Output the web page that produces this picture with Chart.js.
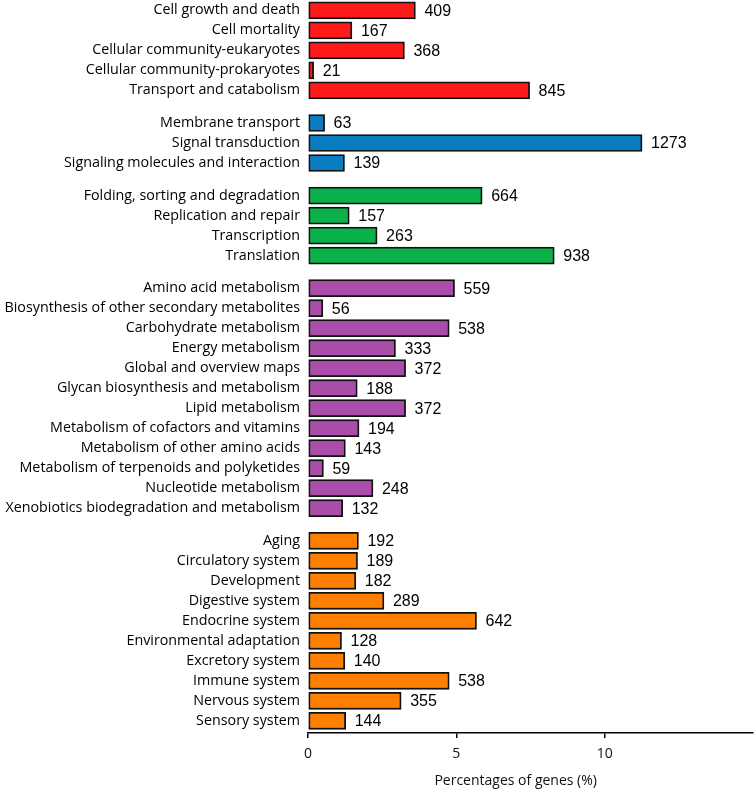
<!DOCTYPE html>
<html>
<head>
<meta charset="utf-8">
<script src="https://cdn.jsdelivr.net/npm/chart.js@4.4.1/dist/chart.umd.min.js"></script>
<style>
  html, body { margin: 0; padding: 0; background: #fff; }
  #wrap { width: 754px; height: 790px; }
</style>
</head>
<body>
<div id="wrap"><canvas id="myChart" width="754" height="790"></canvas></div>
<script>
// KEGG groups: names, gene counts (bar labels) and percentages (bar lengths)
var cellNames = ["Cell growth and death", "Cell mortality", "Cellular community-eukaryotes",
	"Cellular community-prokaryotes", "Transport and catabolism"];
var cellCounts = [409, 167, 368, 21, 845];
var cellPct = [3.62, 1.48, 3.25, 0.19, 7.47];

var envNames = ["Membrane transport", "Signal transduction", "Signaling molecules and interaction"];
var envCounts = [63, 1273, 139];
var envPct = [0.56, 11.26, 1.23];

var genNames = ["Folding, sorting and degradation", "Replication and repair", "Transcription", "Translation"];
var genCounts = [664, 157, 263, 938];
var genPct = [5.87, 1.39, 2.33, 8.30];

var metNames = ["Amino acid metabolism", "Biosynthesis of other secondary metabolites",
	"Carbohydrate metabolism", "Energy metabolism", "Global and overview maps",
	"Glycan biosynthesis and metabolism", "Lipid metabolism", "Metabolism of cofactors and vitamins",
	"Metabolism of other amino acids", "Metabolism of terpenoids and polyketides",
	"Nucleotide metabolism", "Xenobiotics biodegradation and metabolism"];
var metCounts = [559, 56, 538, 333, 372, 188, 372, 194, 143, 59, 248, 132];
var metPct = [4.94, 0.50, 4.76, 2.95, 3.29, 1.66, 3.29, 1.72, 1.26, 0.52, 2.19, 1.17];

var orgNames = ["Aging", "Circulatory system", "Development", "Digestive system", "Endocrine system",
	"Environmental adaptation", "Excretory system", "Immune system", "Nervous system", "Sensory system"];
var orgCounts = [192, 189, 182, 289, 642, 128, 140, 538, 355, 144];
var orgPct = [1.70, 1.67, 1.61, 2.56, 5.68, 1.13, 1.24, 4.76, 3.14, 1.27];

var xTicks = [0, 5, 10];
var xTitle = 'Percentages of genes (%)';

var groups = [
	{ names: cellNames, counts: cellCounts, pct: cellPct, color: '#ff1a1a' },
	{ names: envNames, counts: envCounts, pct: envPct, color: '#0a7dc0' },
	{ names: genNames, counts: genCounts, pct: genPct, color: '#0db14b' },
	{ names: metNames, counts: metCounts, pct: metPct, color: '#aa4daa' },
	{ names: orgNames, counts: orgCounts, pct: orgPct, color: '#ff8000' }
];

// flatten groups; rows are one unit apart, groups separated by an extra gap
var GAP = 0.63;
var labels = [], counts = [], points = [], colors = [], rows = [];
var row = 0;
groups.forEach(function(g, gi) {
	g.names.forEach(function(name, i) {
		var pos = row + gi * GAP;
		labels.push(name);
		counts.push(g.counts[i]);
		points.push({ x: g.pct[i], y: pos });
		colors.push(g.color);
		rows.push(pos);
		row++;
	});
});

var valueLabels = {
	id: 'valueLabels',
	afterDatasetsDraw: function(chart) {
		var ctx = chart.ctx;
		var meta = chart.getDatasetMeta(0);
		ctx.save();
		ctx.fillStyle = '#000';
		ctx.font = '16px "Liberation Sans", Arial, sans-serif';
		ctx.textAlign = 'left';
		ctx.textBaseline = 'middle';
		meta.data.forEach(function(bar, i) {
			ctx.fillText(counts[i], bar.x + 9, bar.y + 1);
		});
		// axis title, centred a bit left of the axis middle like the original
		var x = chart.scales.x;
		ctx.fillStyle = '#111';
		ctx.font = '14px "Open Sans", sans-serif';
		ctx.textAlign = 'center';
		ctx.fillText(xTitle, (x.getPixelForValue(0) + x.getPixelForValue(14)) / 2, x.bottom - 9);
		ctx.restore();
	}
};

var ctx = document.getElementById("myChart");
var myChart = new Chart(ctx, {
	type: 'bar',
	data: {
		datasets: [{
			data: points,
			backgroundColor: colors,
			borderColor: '#111',
			borderWidth: 1.8,
			borderSkipped: false,
			barThickness: 17
		}]
	},
	options: {
		indexAxis: 'y',
		responsive: false,
		animation: false,
		layout: { padding: 0 },
		plugins: {
			legend: { display: false },
			tooltip: { enabled: false }
		},
		scales: {
			x: {
				type: 'linear',
				min: 0,
				max: 15,
				afterBuildTicks: function(scale) {
					scale.ticks = xTicks.map(function(v) { return { value: v }; });
				},
				afterFit: function(scale) {
					scale.height = 57;
					scale.paddingLeft = 0;
					scale.paddingRight = 1;
				},
				border: { display: true, color: '#000', width: 1.5 },
				grid: { display: true, drawOnChartArea: false, drawTicks: true, tickLength: 5, color: '#000', lineWidth: 1.5 },
				ticks: {
					color: '#111',
					padding: 8,
					font: { family: '"Open Sans", sans-serif', size: 14 }
				}
			},
			y: {
				type: 'linear',
				reverse: true,
				offset: false,
				min: -0.52,
				max: 36.13,
				afterBuildTicks: function(scale) {
					scale.ticks = rows.map(function(v) { return { value: v }; });
				},
				afterFit: function(scale) {
					scale.width = 308;
					scale.paddingTop = 0;
					scale.paddingBottom = 0;
				},
				border: { display: false },
				grid: { display: false, offset: false, drawTicks: false, tickLength: 0 },
				ticks: {
					autoSkip: false,
					color: '#000',
					padding: 8,
					font: { family: '"Open Sans", sans-serif', size: 14.3 },
					callback: function(value, index) { return labels[index]; }
				}
			}
		}
	},
	plugins: [valueLabels]
});
</script>
</body>
</html>
